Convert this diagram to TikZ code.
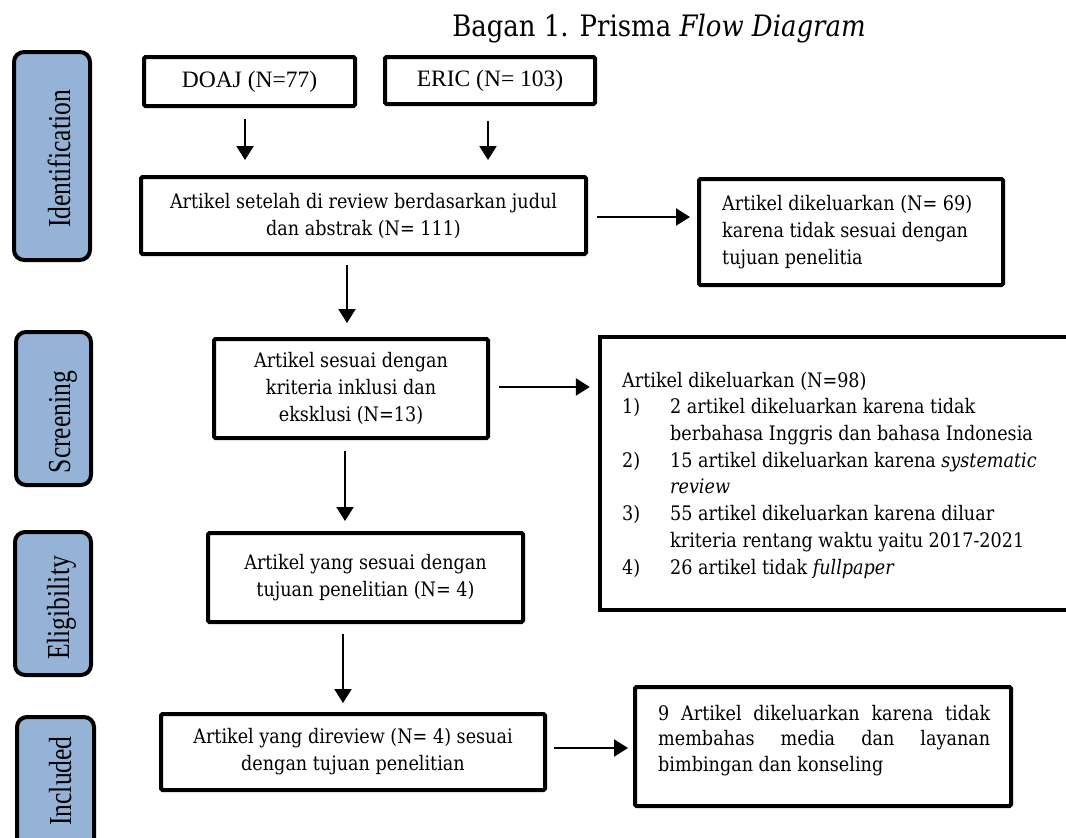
\documentclass[tikz,border=0pt]{standalone}
\usepackage{fontspec}
\setmainfont{DejaVu Serif}[FakeStretch=0.88]
\newfontfamily\tnr{Liberation Serif}
\usetikzlibrary{arrows.meta,calc}
\definecolor{sideblue}{HTML}{95B3D7}
\begin{document}
\begin{tikzpicture}[x=1pt,y=-1pt,
  box/.style={draw, line width=4pt, rounded corners=1.5pt, inner sep=0pt, align=center,
              font=\fontsize{20}{27}\selectfont},
  side/.style={draw, line width=4pt, fill=sideblue, rounded corners=10pt, inner sep=0pt},
  sidetxt/.style={rotate=90, anchor=base, inner sep=0pt, font=\tnr\fontsize{32}{32}\selectfont},
  txt/.style={inner sep=0pt, anchor=north west},
  arr/.style={line width=2.2pt, -{Triangle[length=14pt,width=17pt]}}]
\useasboundingbox (0,0) rectangle (1066,838);

% title
\node[anchor=base, inner sep=0pt, font=\fontsize{29.5}{32}\selectfont] (title) at (659,36)
  {Bagan 1. Prisma \textit{Flow Diagram}};

% side labels
\node[side, minimum width=76pt, minimum height=208pt] (sid) at (52,156) {};
\node[side, minimum width=75pt, minimum height=153pt] (sscr) at (53.5,408.5) {};
\node[side, minimum width=76pt, minimum height=143pt] (self) at (53,603.5) {};
\node[side, minimum width=77pt, minimum height=141pt] (sinc) at (55.5,787.5) {};
\node[sidetxt] (tid) at (70,159) {\scalebox{0.8}[1]{Identification}};
\node[sidetxt] (tscr) at (70,422) {\scalebox{0.8}[1]{Screening}};
\node[sidetxt] (telig) at (69,608) {\scalebox{0.8}[1]{Eligibility}};
\node[sidetxt] (tinc) at (71,781) {\scalebox{0.8}[1]{Included}};

% boxes
\node[box, font=\tnr\fontsize{23.5}{26}\selectfont, minimum width=211pt, minimum height=49pt] (doaj) at (249.5,81.5) {DOAJ (N=77)};
\node[box, font=\tnr\fontsize{23.5}{26}\selectfont, minimum width=210pt, minimum height=47pt] (eric) at (490,80.5) {ERIC (N= 103)};
\node[box, minimum width=445pt, minimum height=77pt] (rev) at (363.5,215.5)
  {Artikel setelah di review berdasarkan judul\\dan abstrak (N= 111)};
\node[box, minimum width=304pt, minimum height=106pt] (ex1) at (851,232) {};
\node[txt, font=\fontsize{20}{27}\selectfont] (tex1) at (722,191.1)
  {\begin{tabular}{@{}l@{}}Artikel dikeluarkan (N= 69)\\karena tidak sesuai dengan\\tujuan penelitia\end{tabular}};
\node[box, minimum width=274pt, minimum height=99pt] (scr) at (351,388.5)
  {Artikel sesuai dengan\\kriteria inklusi dan\\eksklusi (N=13)};
\node[inner sep=0pt, minimum width=472pt, minimum height=273pt] (big) at (836,473.5) {};
\draw[line width=4pt] (big.north east) -- (big.north west) -- (big.south west) -- (big.south east);
\node[txt, font=\fontsize{20}{26.7}\selectfont] (tbig) at (622,368.3)
  {\begin{tabular}{@{}p{48pt}@{}l@{}}
   \multicolumn{2}{@{}l@{}}{Artikel dikeluarkan (N=98)}\\
   1) & 2 artikel dikeluarkan karena tidak\\
      & berbahasa Inggris dan bahasa Indonesia\\
   2) & 15 artikel dikeluarkan karena \textit{systematic}\\
      & \textit{review}\\
   3) & 55 artikel dikeluarkan karena diluar\\
      & kriteria rentang waktu yaitu 2017-2021\\
   4) & 26 artikel tidak \textit{fullpaper}
   \end{tabular}};
\node[box, minimum width=315pt, minimum height=89pt] (elig) at (365.5,577.5)
  {Artikel yang sesuai dengan\\tujuan penelitian (N= 4)};
\node[box, minimum width=384pt, minimum height=76pt] (inc) at (353,752)
  {Artikel yang direview (N= 4) sesuai\\dengan tujuan penelitian};
\node[box, minimum width=376pt, minimum height=119pt] (ex3) at (823,746.5) {};
\node[txt, text width=332pt, align=justify, font=\fontsize{20}{25.5}\selectfont] (tex3) at (658,702.2)
  {\strut 9 Artikel dikeluarkan karena tidak\linebreak membahas media dan layanan\linebreak bimbingan dan konseling};

% arrows
\draw[arr] ($(doaj.south)+(-4.5,11)$) -- ($(doaj.south |- rev.north)+(-4.5,-15)$);
\draw[arr] ($(eric.south)+(-2,15)$) -- ($(eric.south |- rev.north)+(-2,-15)$);
\draw[arr] ($(rev.east)+(9,1.5)$) -- ($(rev.east -| ex1.west)+(-7,1.5)$);
\draw[arr] ($(rev.south)+(-16.5,9)$) -- ($(rev.south |- scr.north)+(-16.5,-14)$);
\draw[arr] ($(scr.east)+(9,-1.5)$) -- ($(scr.east -| big.west)+(-10,-1.5)$);
\draw[arr] ($(scr.south)+(-6,11)$) -- ($(scr.south |- elig.north)+(-6,-10)$);
\draw[arr] ($(elig.south)+(-22.5,10)$) -- ($(elig.south |- inc.north)+(-22.5,-9)$);
\draw[arr] ($(inc.east)+(7,-4)$) -- ($(inc.east -| ex3.west)+(-5,-4)$);
\end{tikzpicture}
\end{document}
